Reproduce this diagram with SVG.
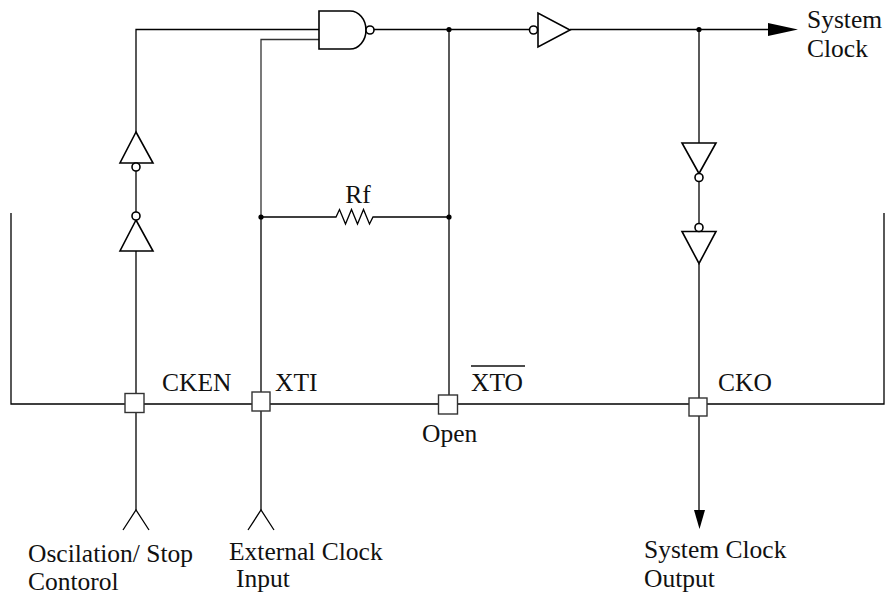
<svg xmlns="http://www.w3.org/2000/svg" width="885" height="597" viewBox="0 0 885 597">
<style>
.w{fill:none;stroke:#000;stroke-width:1.3}
.g{fill:none;stroke:#333;stroke-width:1.3}
.gate{fill:#fff;stroke:#000;stroke-width:1.6}
.pad{fill:#fff;stroke:#333;stroke-width:1.4}
.dot{fill:#000}
.t{font-family:"Liberation Serif","Times New Roman",serif;font-size:25.5px;fill:#111}
</style>
<rect width="885" height="597" fill="#fff"/>
<g id="connectors">
<polyline class="w" points="11,213 11,404 884,404 884,213"/>
<polyline class="w" points="136,132 136,29.5 319,29.5"/>
<line class="w" x1="136" y1="171" x2="136" y2="212"/>
<line class="w" x1="136" y1="251" x2="136" y2="510"/>
<polyline class="g" points="319,39.5 261,39.5 261,217"/>
<line class="w" x1="261" y1="217" x2="261" y2="510"/>
<line class="w" x1="374" y1="29.5" x2="529.5" y2="29.5"/>
<line class="w" x1="449" y1="29.5" x2="449" y2="405"/>
<polyline class="w" points="261,217 336,217 339.5,209.5 345.5,224 351.5,209.5 357.5,224 363.5,209.5 369.5,224 373,217 449,217"/>
<line class="w" x1="570" y1="29.5" x2="770" y2="29.5"/>
<polygon points="768,23 798,29.5 768,36" fill="#000"/>
<line class="w" x1="699" y1="29.5" x2="699" y2="143"/>
<line class="w" x1="699" y1="181.5" x2="699" y2="223.5"/>
<line class="w" x1="699" y1="263.5" x2="699" y2="512"/>
<polygon points="694,510 705,510 699.5,529" fill="#000"/>
<polyline class="w" points="123,530 136,510 149,530"/>
<polyline class="w" points="248,530 261,510 274,530"/>
<circle class="dot" cx="449" cy="29.5" r="2.6"/>
<circle class="dot" cx="699" cy="29.5" r="2.6"/>
<circle class="dot" cx="261" cy="217" r="2.6"/>
<circle class="dot" cx="449" cy="217" r="2.6"/>
</g>
<g id="nand">
<path class="gate" d="M319,11 H350 A16,19 0 0 1 350,49 H319 Z"/>
<circle class="gate" cx="370" cy="30" r="4"/>
</g>
<g id="inv-top">
<polygon class="gate" points="538,13 538,47 570,30"/>
<circle class="gate" cx="533.5" cy="30" r="4"/>
</g>
<g id="inv-left-upper">
<polygon class="gate" points="136,132 120,163 153,163"/>
<circle class="gate" cx="136" cy="167" r="4"/>
</g>
<g id="inv-left-lower">
<polygon class="gate" points="136,220 120,251 153,251"/>
<circle class="gate" cx="136" cy="216" r="4"/>
</g>
<g id="inv-right-upper">
<polygon class="gate" points="682,143 716,143 699,173.5"/>
<circle class="gate" cx="699" cy="177.5" r="4"/>
</g>
<g id="inv-right-lower">
<polygon class="gate" points="682,231.5 716,231.5 699,263.5"/>
<circle class="gate" cx="699" cy="227.5" r="4"/>
</g>
<g id="resistor">
<text class="t" x="358" y="203" text-anchor="middle">Rf</text>
</g>
<g id="pad-cken">
<rect class="pad" x="125" y="393.5" width="19" height="19"/>
<text class="t" x="162" y="391">CKEN</text>
</g>
<g id="pad-xti">
<rect class="pad" x="252" y="392" width="18" height="19"/>
<text class="t" x="275" y="391">XTI</text>
</g>
<g id="pad-xto">
<rect class="pad" x="438.5" y="395" width="19" height="19"/>
<text class="t" x="471" y="391">XTO</text>
<line x1="471" y1="366" x2="525" y2="366" stroke="#111" stroke-width="1.3"/>
<text class="t" x="422" y="442">Open</text>
</g>
<g id="pad-cko">
<rect class="pad" x="689" y="398" width="18" height="18"/>
<text class="t" x="718" y="391">CKO</text>
</g>
<g id="label-sysclk">
<text class="t" x="807" y="28">System</text>
<text class="t" x="807" y="57">Clock</text>
</g>
<g id="label-osc">
<text class="t" x="28" y="562">Oscilation/ Stop</text>
<text class="t" x="28" y="590">Contorol</text>
</g>
<g id="label-ext">
<text class="t" x="229" y="560">External Clock</text>
<text class="t" x="236" y="587">Input</text>
</g>
<g id="label-out">
<text class="t" x="644" y="558">System Clock</text>
<text class="t" x="644" y="587">Output</text>
</g>
</svg>
